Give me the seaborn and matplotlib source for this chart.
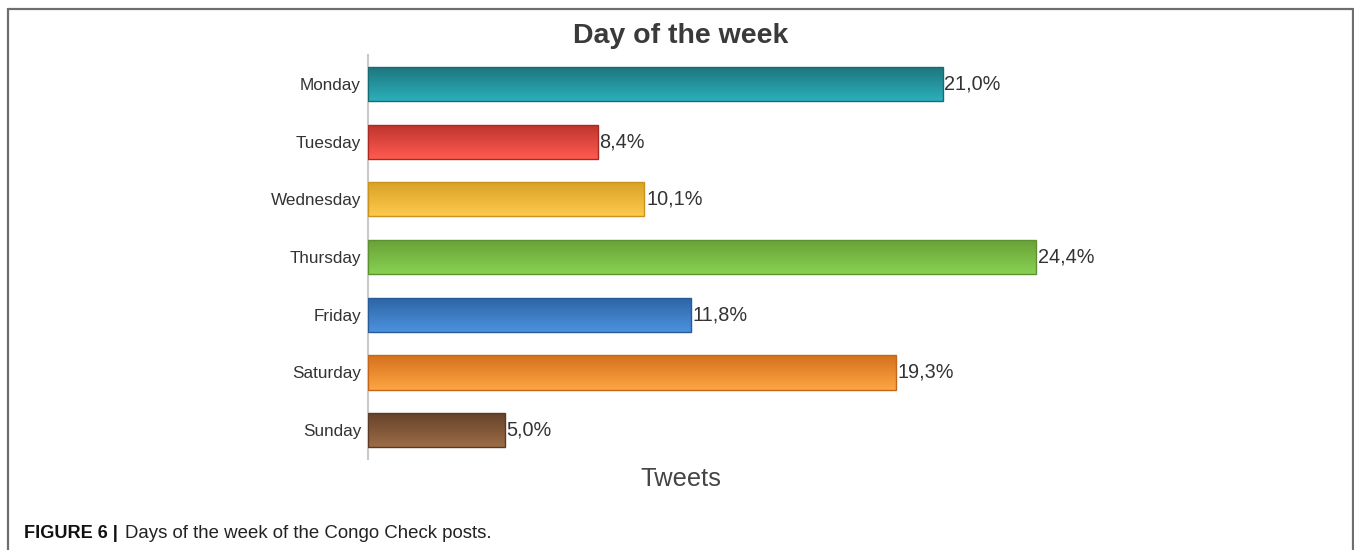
import numpy as np
import pandas as pd
import matplotlib
matplotlib.use("Agg")
import matplotlib.pyplot as plt
from matplotlib.lines import Line2D
from matplotlib.colors import to_rgb
import seaborn as sns

days = ["Monday", "Tuesday", "Wednesday", "Thursday", "Friday", "Saturday", "Sunday"]
shares = [21.0, 8.4, 10.1, 24.4, 11.8, 19.3, 5.0]
labels = ["21,0%", "8,4%", "10,1%", "24,4%", "11,8%", "19,3%", "5,0%"]

# (top, bottom) colours of each bar's vertical gradient
top_colors = ["#1d747d", "#bd332d", "#d8a126", "#68a037", "#2d63a3", "#d5711c", "#65412a"]
bottom_colors = ["#2bb0bb", "#ff5b50", "#fdca4c", "#88d152", "#4b92df", "#ffa545", "#9c6c46"]
edge_colors = ["#1a6a72", "#a82a25", "#c8931f", "#5c9030", "#285a95", "#c4661a", "#5a3a25"]

sns.set_theme(style="white")
plt.rcParams["font.family"] = ["Liberation Sans", "DejaVu Sans"]

W, H = 1354, 550
fig = plt.figure(figsize=(W / 100, H / 100), dpi=100)
ax = fig.add_axes([368 / W, (H - 459) / H, 958 / W, 403.7 / H])

df = pd.DataFrame({"day": days, "share": shares})
sns.barplot(data=df, x="share", y="day", hue="day", palette=bottom_colors,
            order=days, hue_order=days, legend=False, width=0.59, ax=ax,
            saturation=1)

ax.set_xlim(0, 35)
ax.set_ylim(6.5, -0.5)

# paint a vertical gradient inside every bar
for i, patch in enumerate(ax.patches):
    x0, y0 = patch.get_x(), patch.get_y()
    w, h = patch.get_width(), patch.get_height()
    c1 = np.array(to_rgb(top_colors[i]))
    c2 = np.array(to_rgb(bottom_colors[i]))
    t = np.linspace(0, 1, 64)[:, None]
    grad = (c1[None, :] * (1 - t) + c2[None, :] * t)[:, None, :]
    im = ax.imshow(grad, extent=(x0, x0 + w, y0 + h, y0), aspect="auto",
                   origin="upper", interpolation="bilinear", zorder=2)
    im.set_clip_path(patch)
    patch.set_edgecolor(edge_colors[i])
    patch.set_linewidth(1.0)
    patch.set_zorder(3)
    patch.set_facecolor("none")
    ax.text(x0 + w + 0.06, y0 + h / 2, labels[i], va="center", ha="left",
            fontsize=14.3, color="#333333")

ax.set_xlim(0, 35)
ax.set_ylim(6.5, -0.5)

for side in ["top", "right", "bottom"]:
    ax.spines[side].set_visible(False)
ax.spines["left"].set_color("#c9c9c9")
ax.spines["left"].set_linewidth(1.5)
ax.set_xticks([])
ax.tick_params(axis="y", length=0, pad=5, labelsize=12.3, labelcolor="#333333")
ax.set_xlabel("")
ax.set_ylabel("")

fig.text(681 / W, 1 - 36 / H, "Day of the week", ha="center", va="center",
         fontsize=20.5, fontweight="bold", color="#3a3a3a")
fig.text(681 / W, 1 - 479 / H, "Tweets", ha="center", va="center",
         fontsize=18.3, color="#444444")

# figure frame
lc = "#6e6e6e"
fig.add_artist(Line2D([8 / W, 1353 / W], [1 - 9 / H, 1 - 9 / H], color=lc, lw=1.6))
fig.add_artist(Line2D([8 / W, 8 / W], [1 - 9 / H, 0], color=lc, lw=1.6))
fig.add_artist(Line2D([1353 / W, 1353 / W], [1 - 9 / H, 0], color=lc, lw=1.6))

fig.text(24 / W, 1 - 534 / H, "FIGURE 6 |", ha="left", va="center",
         fontsize=13.1, fontweight="bold", color="#111111")
fig.text(125 / W, 1 - 534 / H, "Days of the week of the Congo Check posts.",
         ha="left", va="center", fontsize=13.4, color="#222222")

fig.savefig("out.png", dpi=100)
